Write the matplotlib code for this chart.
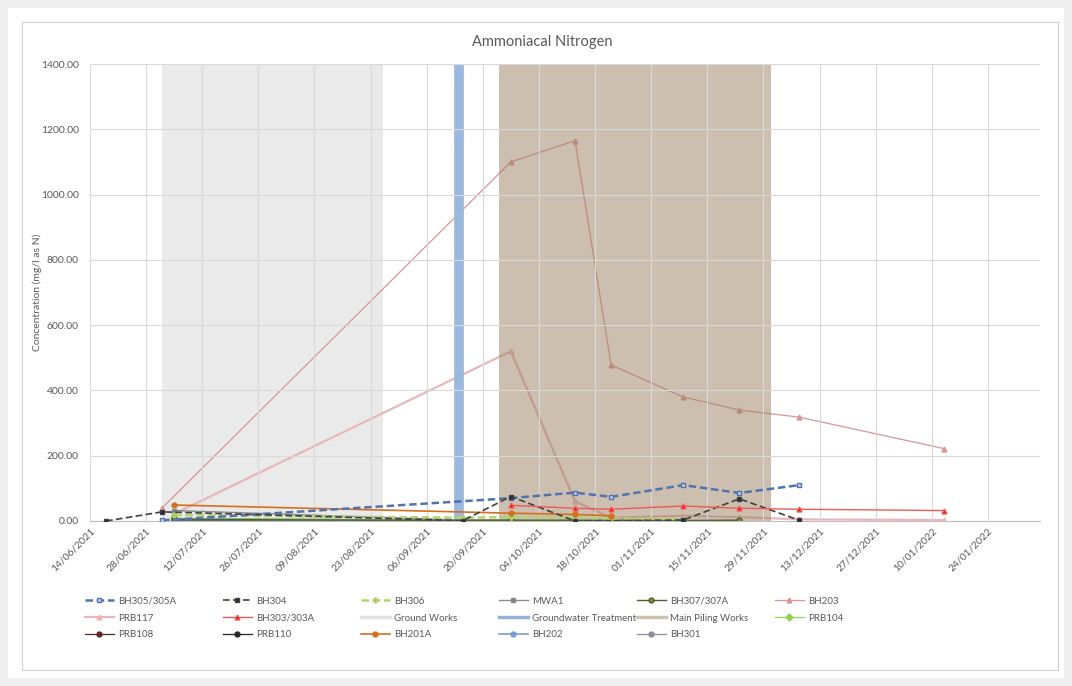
import matplotlib
matplotlib.use("Agg")
import matplotlib.pyplot as plt
import matplotlib.dates as mdates
from matplotlib.lines import Line2D
from matplotlib.patches import Rectangle
import pandas as pd

plt.rcParams['font.family'] = ['Lato', 'DejaVu Sans']

# %% data (dd/mm/yyyy, mg/l as N)
bh305_dates = ['02/07/2021', '27/09/2021', '13/10/2021', '22/10/2021', '09/11/2021', '23/11/2021', '08/12/2021']
bh305_vals = [2, 70, 87, 74, 110, 86, 110]

bh304_dates = ['18/06/2021', '02/07/2021', '15/09/2021', '27/09/2021', '13/10/2021', '09/11/2021', '23/11/2021', '08/12/2021']
bh304_vals = [0, 28, 1, 75, 0, 3, 68, 2]

bh306_dates = ['05/07/2021', '15/09/2021', '27/09/2021', '13/10/2021', '22/10/2021', '09/11/2021']
bh306_vals = [18, 10, 12, 10, 8, 6]

mwa1_dates = ['05/07/2021', '15/09/2021', '27/09/2021', '22/10/2021', '09/11/2021', '23/11/2021']
mwa1_vals = [32, 3, 2, 5, 2, 3]

bh307_dates = ['05/07/2021', '15/09/2021', '27/09/2021', '13/10/2021', '09/11/2021', '23/11/2021']
bh307_vals = [5, 1, 2, 1, 1, 2]

bh203_dates = ['02/07/2021', '27/09/2021', '13/10/2021', '22/10/2021', '09/11/2021', '23/11/2021', '08/12/2021', '13/01/2022']
bh203_vals = [40, 1100, 1165, 478, 380, 340, 318, 222]

prb117_dates = ['05/07/2021', '27/09/2021', '13/10/2021', '22/10/2021', '09/11/2021', '23/11/2021', '08/12/2021', '13/01/2022']
prb117_vals = [22, 520, 60, 10, 16, 12, 5, 3]

bh303_dates = ['27/09/2021', '13/10/2021', '22/10/2021', '09/11/2021', '23/11/2021', '08/12/2021', '13/01/2022']
bh303_vals = [48, 39, 36, 46, 39, 36, 32]

prb104_dates = ['05/07/2021', '27/09/2021']
prb104_vals = [8, 3]

prb108_dates = ['05/07/2021', '27/09/2021']
prb108_vals = [4, 2]

prb110_dates = ['05/07/2021', '27/09/2021']
prb110_vals = [3, 1]

bh201a_dates = ['05/07/2021', '27/09/2021', '13/10/2021', '22/10/2021']
bh201a_vals = [49, 24, 20, 16]

bh202_dates = ['05/07/2021', '15/09/2021', '27/09/2021']
bh202_vals = [6, 2, 1]

bh301_dates = ['05/07/2021', '27/09/2021', '22/10/2021']
bh301_vals = [4, 2, 3]

ground_works = ['02/07/2021', '26/08/2021']
gw_treatment = '14/09/2021'
main_piling = ['24/09/2021', '01/12/2021']

x_start, x_end = '14/06/2021', '06/02/2022'
tick_last = '24/01/2022'
y_ticks = [0, 200, 400, 600, 800, 1000, 1200, 1400]


def dt(v):
    return pd.to_datetime(v, format='%d/%m/%Y')


grey = '#595959'

fig = plt.figure(figsize=(10.72, 6.86), dpi=100, facecolor='#efefef')
fig.patches.append(Rectangle((8/1072, 8/686), 1 - 16/1072, 1 - 16/686, transform=fig.transFigure,
                             facecolor='white', edgecolor='none', zorder=-2))
fig.patches.append(Rectangle((22/1072, 16/686), 1 - 36/1072, 1 - 38/686, transform=fig.transFigure,
                             facecolor='none', edgecolor='#d0d0d0', lw=0.8, zorder=-1))

ax = fig.add_axes([90/1072, 1 - 521/686, (1040 - 90)/1072, (521 - 64)/686])
ax.set_facecolor('none')

# shaded periods
ax.axvspan(dt(ground_works[0]), dt(ground_works[1]), color='#eaeaea', zorder=0.5, lw=0)
ax.axvspan(dt(main_piling[0]), dt(main_piling[1]), color='#9b8163', alpha=0.5, zorder=1.3, lw=0)
ax.axvline(dt(gw_treatment), color='#9bb9dc', lw=7, zorder=1.4)

# series: (dates, values, label, colour, linestyle, marker, markerface, lw, zorder)
series = [
    (bh305_dates, bh305_vals, 'BH305/305A', '#5273ad', (0, (3, 1.5)), 's', '#c5d3ea', 1.8, 3),
    (bh304_dates, bh304_vals, 'BH304', '#404040', (0, (4, 2)), 's', '#1f2a44', 1.2, 3),
    (bh306_dates, bh306_vals, 'BH306', '#b3d36b', (0, (3, 1.5)), 'P', '#9bbb59', 1.8, 2.5),
    (mwa1_dates, mwa1_vals, 'MWA1', '#8c8c8c', '-', 's', '#7f7f7f', 1.0, 2.4),
    (bh307_dates, bh307_vals, 'BH307/307A', '#4f6228', '-', 'o', '#77933c', 1.0, 2.4),
    (bh203_dates, bh203_vals, 'BH203', '#d99694', '-', '^', '#d99694', 0.9, 1.2),
    (prb117_dates, prb117_vals, 'PRB117', '#e8b8b8', '-', '^', '#e6b0b0', 1.6, 1.2),
    (bh303_dates, bh303_vals, 'BH303/303A', '#f05858', '-', '^', '#ff0000', 1.0, 3),
    (prb104_dates, prb104_vals, 'PRB104', '#92d050', '-', 'D', '#92d050', 0.9, 2.3),
    (prb108_dates, prb108_vals, 'PRB108', '#632523', '-', 'o', '#632523', 0.9, 2.3),
    (prb110_dates, prb110_vals, 'PRB110', '#262626', '-', 'o', '#262626', 0.9, 2.3),
    (bh201a_dates, bh201a_vals, 'BH201A', '#d46f1d', '-', 'o', '#d46f1d', 1.2, 2.6),
    (bh202_dates, bh202_vals, 'BH202', '#7b9cd0', '-', 'o', '#7b9cd0', 1.2, 2.3),
    (bh301_dates, bh301_vals, 'BH301', '#8c8c9c', '-', 'o', '#8c8c9c', 0.9, 2.3),
]

handles = {}
for dates, vals, label, col, ls, mk, mfc, lw, z in series:
    ln, = ax.plot(dt(dates), vals, color=col, ls=ls, lw=lw, marker=mk, ms=3.5,
                  mfc=mfc, mec=col, zorder=z, label=label)
    handles[label] = ln

handles['Ground Works'] = Line2D([], [], color='#e3e3e3', lw=2.5)
handles['Groundwater Treatment'] = Line2D([], [], color='#95b3d7', lw=2.5)
handles['Main Piling Works'] = Line2D([], [], color='#cdc1b2', lw=2.5)

# axes
ax.set_xlim(dt(x_start), dt(x_end))
ax.set_ylim(0, 1400)
ticks = pd.date_range(dt(x_start), dt(tick_last), freq='14D')
ax.set_xticks(ticks)
ax.xaxis.set_major_formatter(mdates.DateFormatter('%d/%m/%Y'))
ax.set_yticks(y_ticks)
ax.set_yticklabels(['%.2f' % v for v in y_ticks])
ax.grid(True, color='#d9d9d9', lw=0.8)
for s in ['top', 'right', 'left']:
    ax.spines[s].set_visible(False)
ax.spines['bottom'].set_color('#bfbfbf')
ax.tick_params(axis='y', length=0, pad=8, labelsize=7.5, labelcolor=grey)
ax.tick_params(axis='x', length=0, pad=4, labelsize=7.5, labelcolor=grey)
for lab in ax.get_xticklabels():
    lab.set_rotation(45)
    lab.set_ha('right')
    lab.set_rotation_mode('anchor')

fig.text(542/1072, 1 - 42/686, 'Ammoniacal Nitrogen', ha='center', va='center', fontsize=10.5, color=grey)
fig.text(37/1072, 1 - 292/686, 'Concentration (mg/l as N)', ha='center', va='center',
         rotation=90, fontsize=7.5, color=grey)

# legend, Excel-style fixed columns
rows = [
    ['BH305/305A', 'BH304', 'BH306', 'MWA1', 'BH307/307A', 'BH203'],
    ['PRB117', 'BH303/303A', 'Ground Works', 'Groundwater Treatment', 'Main Piling Works', 'PRB104'],
    ['PRB108', 'PRB110', 'BH201A', 'BH202', 'BH301'],
]
for j in range(6):
    labs = [r[j] for r in rows if j < len(r)]
    fig.legend([handles[l] for l in labs], labs, loc='upper left',
               bbox_to_anchor=((80 + 138 * j)/1072, 1 - 592/686),
               frameon=False, fontsize=7, handlelength=3, handletextpad=0.4,
               labelspacing=0.8, borderpad=0, labelcolor=grey)

fig.savefig('out.png', dpi=100, facecolor=fig.get_facecolor())
